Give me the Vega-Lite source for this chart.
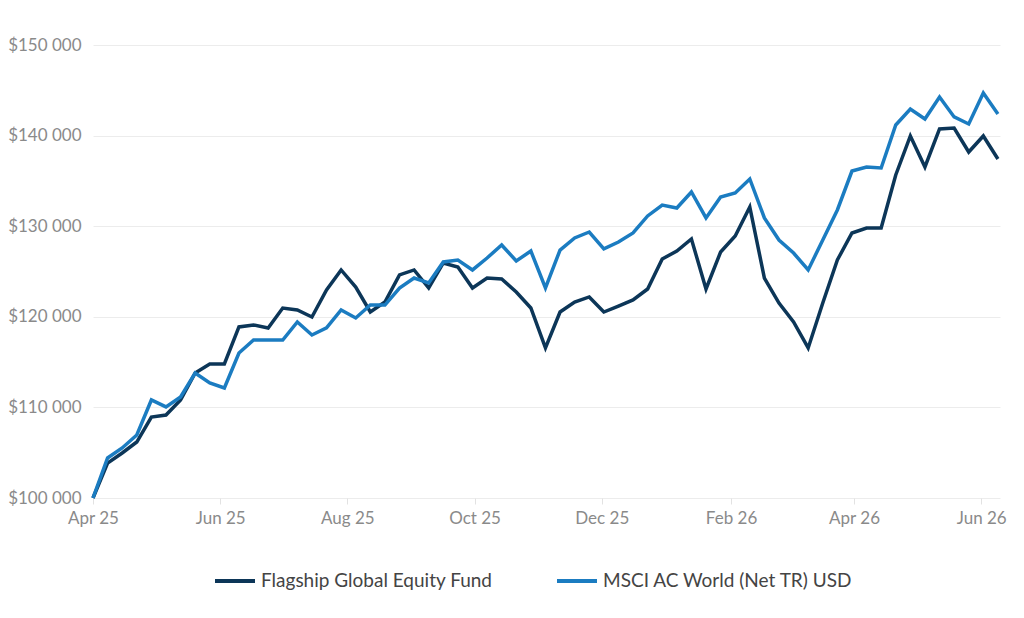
{
  "$schema": "https://vega.github.io/schema/vega-lite/v6.json",
  "width": 907,
  "height": 453,
  "autosize": "none",
  "padding": {"left": 93, "top": 45, "right": 24, "bottom": 120},
  "background": "#ffffff",
  "config": {
    "view": {"stroke": "transparent"},
    "font": "Lato",
    "axis": {"labelColor": "#8a8a8a", "labelFontSize": 17, "gridColor": "#ececec", "domain": false, "title": null}
  },
  "data": {
    "values": [
      {"date": "2025-04-01", "Fund": 100000, "MSCI": 100000},
      {"date": "2025-04-08", "Fund": 103860, "MSCI": 104420},
      {"date": "2025-04-15", "Fund": 104970, "MSCI": 105520},
      {"date": "2025-04-22", "Fund": 106180, "MSCI": 106950},
      {"date": "2025-04-29", "Fund": 108940, "MSCI": 110820},
      {"date": "2025-05-06", "Fund": 109160, "MSCI": 110050},
      {"date": "2025-05-13", "Fund": 110820, "MSCI": 111150},
      {"date": "2025-05-20", "Fund": 113800, "MSCI": 113800},
      {"date": "2025-05-27", "Fund": 114790, "MSCI": 112690},
      {"date": "2025-06-03", "Fund": 114790, "MSCI": 112140},
      {"date": "2025-06-10", "Fund": 118880, "MSCI": 116000},
      {"date": "2025-06-17", "Fund": 119100, "MSCI": 117440},
      {"date": "2025-06-24", "Fund": 118770, "MSCI": 117440},
      {"date": "2025-07-01", "Fund": 120970, "MSCI": 117440},
      {"date": "2025-07-08", "Fund": 120750, "MSCI": 119430},
      {"date": "2025-07-15", "Fund": 119980, "MSCI": 117990},
      {"date": "2025-07-22", "Fund": 122960, "MSCI": 118770},
      {"date": "2025-07-29", "Fund": 125170, "MSCI": 120750},
      {"date": "2025-08-05", "Fund": 123290, "MSCI": 119870},
      {"date": "2025-08-12", "Fund": 120530, "MSCI": 121300},
      {"date": "2025-08-19", "Fund": 121630, "MSCI": 121300},
      {"date": "2025-08-26", "Fund": 124620, "MSCI": 123180},
      {"date": "2025-09-02", "Fund": 125170, "MSCI": 124280},
      {"date": "2025-09-09", "Fund": 123180, "MSCI": 123730},
      {"date": "2025-09-16", "Fund": 125940, "MSCI": 126050},
      {"date": "2025-09-23", "Fund": 125500, "MSCI": 126270},
      {"date": "2025-09-30", "Fund": 123180, "MSCI": 125170},
      {"date": "2025-10-07", "Fund": 124280, "MSCI": 126490},
      {"date": "2025-10-14", "Fund": 124170, "MSCI": 127930},
      {"date": "2025-10-21", "Fund": 122740, "MSCI": 126160},
      {"date": "2025-10-28", "Fund": 120970, "MSCI": 127260},
      {"date": "2025-11-04", "Fund": 116560, "MSCI": 123180},
      {"date": "2025-11-11", "Fund": 120530, "MSCI": 127370},
      {"date": "2025-11-18", "Fund": 121630, "MSCI": 128700},
      {"date": "2025-11-25", "Fund": 122190, "MSCI": 129360},
      {"date": "2025-12-02", "Fund": 120530, "MSCI": 127490},
      {"date": "2025-12-09", "Fund": 121190, "MSCI": 128260},
      {"date": "2025-12-16", "Fund": 121860, "MSCI": 129250},
      {"date": "2025-12-23", "Fund": 123070, "MSCI": 131130},
      {"date": "2025-12-30", "Fund": 126380, "MSCI": 132340},
      {"date": "2026-01-06", "Fund": 127260, "MSCI": 132010},
      {"date": "2026-01-13", "Fund": 128590, "MSCI": 133780},
      {"date": "2026-01-20", "Fund": 123070, "MSCI": 130910},
      {"date": "2026-01-27", "Fund": 127150, "MSCI": 133220},
      {"date": "2026-02-03", "Fund": 128920, "MSCI": 133670},
      {"date": "2026-02-10", "Fund": 132120, "MSCI": 135210},
      {"date": "2026-02-17", "Fund": 124280, "MSCI": 130910},
      {"date": "2026-02-24", "Fund": 121520, "MSCI": 128480},
      {"date": "2026-03-03", "Fund": 119430, "MSCI": 127040},
      {"date": "2026-03-10", "Fund": 116560, "MSCI": 125170},
      {"date": "2026-03-17", "Fund": 121520, "MSCI": 128480},
      {"date": "2026-03-24", "Fund": 126270, "MSCI": 131790},
      {"date": "2026-03-31", "Fund": 129250, "MSCI": 136090},
      {"date": "2026-04-07", "Fund": 129800, "MSCI": 136540},
      {"date": "2026-04-14", "Fund": 129800, "MSCI": 136430},
      {"date": "2026-04-21", "Fund": 135650, "MSCI": 141170},
      {"date": "2026-04-28", "Fund": 139960, "MSCI": 142940},
      {"date": "2026-05-05", "Fund": 136540, "MSCI": 141830},
      {"date": "2026-05-12", "Fund": 140730, "MSCI": 144260},
      {"date": "2026-05-19", "Fund": 140840, "MSCI": 142060},
      {"date": "2026-05-26", "Fund": 138190, "MSCI": 141280},
      {"date": "2026-06-02", "Fund": 139960, "MSCI": 144700},
      {"date": "2026-06-09", "Fund": 137420, "MSCI": 142390}
    ]
  },
  "transform": [{"fold": ["Fund", "MSCI"], "as": ["series", "value"]}],
  "mark": {"type": "line", "strokeWidth": 3.5, "strokeJoin": "miter", "clip": false},
  "encoding": {
    "x": {
      "field": "date",
      "type": "temporal",
      "scale": {
        "type": "utc",
        "domain": [
          {"year": 2025, "month": 4, "date": 1, "utc": true},
          {"year": 2026, "month": 6, "date": 10, "utc": true}
        ]
      },
      "axis": {
        "values": [
          {"year": 2025, "month": 4, "date": 1, "utc": true},
          {"year": 2025, "month": 6, "date": 1, "utc": true},
          {"year": 2025, "month": 8, "date": 1, "utc": true},
          {"year": 2025, "month": 10, "date": 1, "utc": true},
          {"year": 2025, "month": 12, "date": 1, "utc": true},
          {"year": 2026, "month": 2, "date": 1, "utc": true},
          {"year": 2026, "month": 4, "date": 1, "utc": true},
          {"year": 2026, "month": 6, "date": 1, "utc": true}
        ],
        "labelExpr": "utcFormat(datum.value, '%b %y')",
        "grid": false,
        "ticks": true,
        "tickColor": "#e2e2e2",
        "tickSize": 6,
        "labelPadding": 6,
        "labelFlush": false
      }
    },
    "y": {
      "field": "value",
      "type": "quantitative",
      "scale": {"domain": [100000, 150000], "nice": false, "zero": false},
      "axis": {
        "values": [100000, 110000, 120000, 130000, 140000, 150000],
        "labelExpr": "'$' + replace(format(datum.value, ',.0f'), ',', ' ')",
        "ticks": false,
        "labelPadding": 12,
        "grid": true
      }
    },
    "color": {
      "field": "series",
      "type": "nominal",
      "scale": {"domain": ["Fund", "MSCI"], "range": ["#0c3658", "#1b7cc1"]},
      "legend": {
        "title": null,
        "orient": "none",
        "direction": "horizontal",
        "legendX": 120,
        "legendY": 514,
        "symbolType": "stroke",
        "symbolSize": 1600,
        "symbolStrokeWidth": 4,
        "labelFontSize": 19,
        "labelColor": "#444444",
        "labelOffset": 4,
        "labelLimit": 0,
        "columnPadding": 56,
        "labelExpr": "datum.label == 'Fund' ? 'Flagship Global Equity Fund' : 'MSCI AC World (Net TR) USD'"
      }
    }
  }
}
